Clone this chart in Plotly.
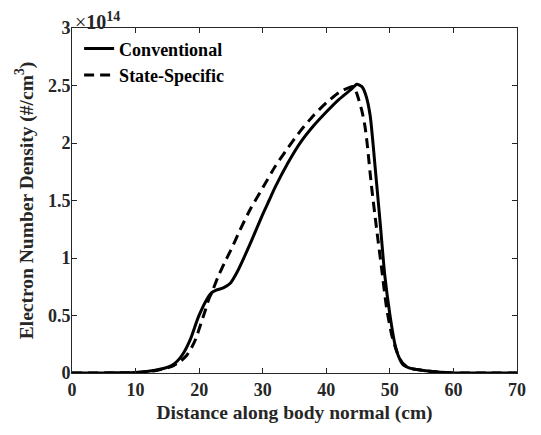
import plotly.graph_objects as go

# Distance along body normal (cm) and electron number density (x 1e14 #/cm^3)
conv_x = [0, 5, 10, 12, 14, 15.5, 16.5, 17.5, 18.6, 19.9, 21.2, 22.0, 22.7, 23.8, 24.9, 26, 28, 30, 31, 32, 34, 36, 38, 40, 42, 44, 44.8, 45.6, 46.2, 46.9, 47.7, 48.5, 49.2, 50, 50.8, 51.4, 52.1, 53, 54.2, 56.3, 58, 60, 65, 70]
conv_y = [0, 0.001, 0.005, 0.015, 0.035, 0.06, 0.10, 0.17, 0.29, 0.49, 0.64, 0.70, 0.72, 0.74, 0.78, 0.88, 1.12, 1.38, 1.50, 1.62, 1.83, 2.01, 2.15, 2.27, 2.38, 2.47, 2.51, 2.49, 2.42, 2.24, 1.78, 1.29, 0.85, 0.51, 0.25, 0.14, 0.07, 0.045, 0.03, 0.015, 0.006, 0.001, 0, 0]

ss_x = [0, 10, 13, 15, 16, 17, 18, 18.8, 19.5, 20.1, 21, 21.5, 22, 23, 24, 25, 26.4, 28, 30, 32, 34, 36, 38, 40, 42, 43.5, 44.3, 44.8, 45.6, 46.1, 46.4, 47.1, 47.9, 48.7, 49.5, 50.3, 51, 51.6, 52.3, 53, 54.2, 56.3, 58, 60, 65, 70]
ss_y = [0, 0.004, 0.02, 0.045, 0.065, 0.10, 0.15, 0.22, 0.30, 0.40, 0.55, 0.64, 0.70, 0.84, 0.96, 1.07, 1.24, 1.42, 1.61, 1.80, 1.96, 2.11, 2.24, 2.35, 2.44, 2.48, 2.49, 2.43, 2.28, 2.14, 2.01, 1.63, 1.26, 0.91, 0.56, 0.33, 0.20, 0.12, 0.07, 0.045, 0.03, 0.015, 0.006, 0.001, 0, 0]

x_ticks = [0, 10, 20, 30, 40, 50, 60, 70]
y_ticks = [0, 0.5, 1, 1.5, 2, 2.5, 3]
y_tick_text = ["0", "0.5", "1", "1.5", "2", "2.5", "3"]

FONT = "Liberation Serif"
INK = "#262626"

fig = go.Figure()
fig.add_trace(go.Scatter(x=conv_x, y=conv_y, mode="lines", name="Conventional",
                         line=dict(color="black", width=3, shape="spline", smoothing=0.6)))
fig.add_trace(go.Scatter(x=ss_x, y=ss_y, mode="lines", name="State-Specific",
                         line=dict(color="black", width=3, dash="10px,6px", shape="spline", smoothing=0.6)))

axis_common = dict(
    showline=True, linecolor=INK, linewidth=1, mirror="ticks",
    ticks="inside", ticklen=5, tickwidth=1, tickcolor=INK,
    showgrid=False, zeroline=False, automargin=False,
    tickfont=dict(family=FONT, size=18, color=INK, weight="bold"),
)

fig.update_xaxes(range=[0, 70], tickvals=x_ticks, ticktext=[str(v) for v in x_ticks],
                 title=dict(text="Distance along body normal (cm)",
                            font=dict(family=FONT, size=19.5, color=INK, weight="bold"), standoff=6),
                 **axis_common)
fig.update_yaxes(range=[0, 3], tickvals=y_ticks, ticktext=y_tick_text,
                 ticklabelstandoff=-3,
                 title=dict(text="Electron Number Density (#/cm<sup>3</sup>)",
                            font=dict(family=FONT, size=19.5, color=INK, weight="bold"), standoff=9),
                 **axis_common)

fig.add_annotation(xref="paper", yref="paper", x=0.0, y=1.0, xanchor="left", yanchor="bottom",
                   text="×<b>10<sup>14</sup></b>", showarrow=False,
                   font=dict(family=FONT, size=20, color=INK), yshift=-7, xshift=1)

# The page body adds an 8px offset, so the figure is sized to fit the 541x435 window
fig.update_layout(
    width=533, height=427,
    margin=dict(l=64, r=24, t=20, b=62),
    paper_bgcolor="white", plot_bgcolor="white",
    legend=dict(x=0.016, y=0.993, xanchor="left", yanchor="top",
                font=dict(family=FONT, size=18, color="black", weight="bold"),
                bgcolor="rgba(0,0,0,0)", borderwidth=0, tracegroupgap=0,
                itemwidth=30),
)

fig.write_html("out.html")
